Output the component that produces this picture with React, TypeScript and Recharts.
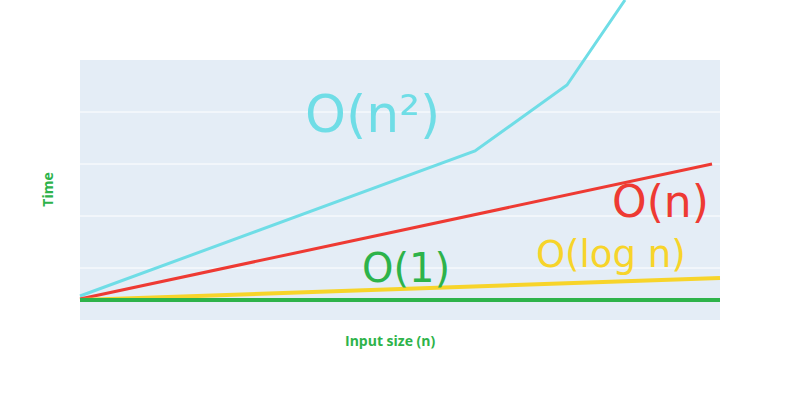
import React from 'react'
import {
  LineChart,
  Line,
  XAxis,
  YAxis,
  ReferenceArea,
  ReferenceLine,
} from 'recharts'

// x: input size, y: time (arbitrary units)
const quadratic = [
  { x: 0, y: 4 },
  { x: 395, y: 149 },
  { x: 487, y: 215 },
  { x: 545, y: 300 },
]
const linear = [
  { x: 0, y: 1 },
  { x: 632, y: 136 },
]
const logarithmic = [
  { x: 0, y: 0 },
  { x: 640, y: 22 },
]
const constant = [
  { x: 0, y: 0 },
  { x: 640, y: 0 },
]
const gridValues = [32, 84, 136, 188]

const green = '#2db34a'

const notes = [
  { text: 'O(n²)', color: '#6fdde6', left: 305, top: 88, size: 52 },
  { text: 'O(n)', color: '#ee3a33', left: 612, top: 180, size: 44 },
  { text: 'O(1)', color: '#2db34a', left: 362, top: 248, size: 40 },
  { text: 'O(log n)', color: '#f7d42a', left: 536, top: 236, size: 37 },
]

const App: React.FC = () => {
  return (
    <div style={{ position: 'absolute', left: 0, top: 0, width: 800, height: 400 }}>
      <LineChart
        width={800}
        height={400}
        margin={{ top: 0, right: 80, bottom: 80, left: 80 }}
      >
        <XAxis type="number" dataKey="x" domain={[0, 640]} hide />
        <YAxis type="number" dataKey="y" domain={[-20, 300]} hide />
        <ReferenceArea x1={0} x2={640} y1={-20} y2={240} fill="#e4edf6" fillOpacity={1} stroke="none" />
        {gridValues.map((v) => (
          <ReferenceLine key={v} y={v} stroke="#ffffff" strokeWidth={1} />
        ))}
        <Line data={quadratic} dataKey="y" stroke="#6fdde6" strokeWidth={3} dot={false} isAnimationActive={false} />
        <Line data={linear} dataKey="y" stroke="#ee3a33" strokeWidth={3} dot={false} isAnimationActive={false} />
        <Line data={logarithmic} dataKey="y" stroke="#f7d42a" strokeWidth={4} dot={false} isAnimationActive={false} />
        <Line data={constant} dataKey="y" stroke="#2db34a" strokeWidth={4} dot={false} isAnimationActive={false} />
      </LineChart>
      <div style={{ position: 'absolute', left: 345, top: 331, color: green, font: 'bold 14px "Open Sans", sans-serif' }}>
        Input size (n)
      </div>
      <div
        style={{
          position: 'absolute',
          left: 30,
          top: 180,
          color: green,
          font: 'bold 14px "Open Sans", sans-serif',
          transform: 'rotate(-90deg)',
        }}
      >
        Time
      </div>
      {notes.map((n) => (
        <div
          key={n.text}
          style={{
            position: 'absolute',
            left: n.left,
            top: n.top,
            color: n.color,
            font: `${n.size}px "DejaVu Sans", sans-serif`,
            lineHeight: 1,
            whiteSpace: 'nowrap',
          }}
        >
          {n.text}
        </div>
      ))}
    </div>
  )
}

export default App
